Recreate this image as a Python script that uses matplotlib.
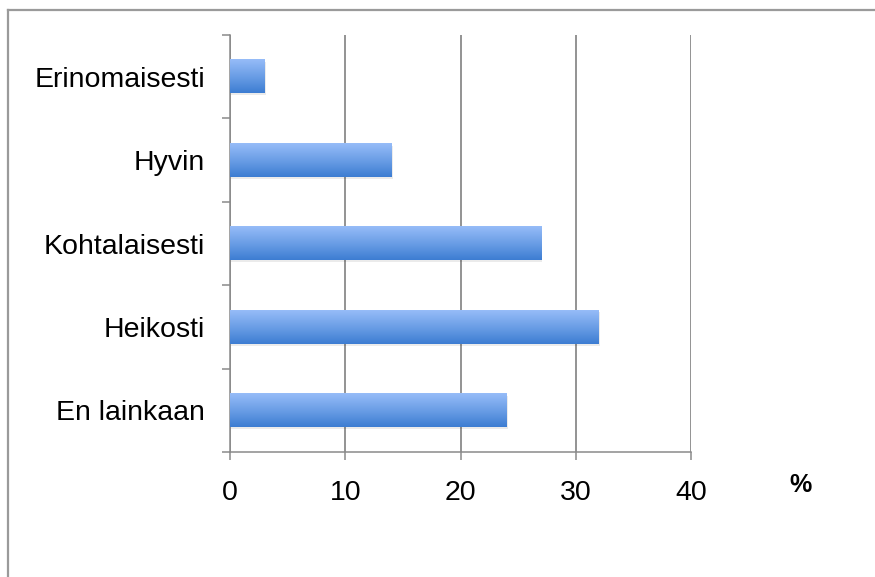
import matplotlib
matplotlib.use("Agg")
import matplotlib.pyplot as plt
import numpy as np
from matplotlib.colors import LinearSegmentedColormap
from matplotlib.lines import Line2D
from matplotlib.patches import Rectangle

# data
categories = ['En lainkaan', 'Heikosti', 'Kohtalaisesti', 'Hyvin', 'Erinomaisesti']
values = [24, 32, 27, 14, 3]
xticks = [0, 10, 20, 30, 40]

plt.rcParams['font.family'] = ['Liberation Sans', 'DejaVu Sans']

fig = plt.figure(figsize=(8.75, 5.77), dpi=100)
ax = fig.add_axes([0.2629, 0.2166, 0.5268, 0.7227])

grad = LinearSegmentedColormap.from_list('bar', ['#3d7dd2', '#6b9ee6', '#96bcf8'])
bar_h = 0.4
y = np.arange(len(categories))

# soft shadow, then the bars with a vertical gradient
for yi, v in zip(y, values):
    ax.add_patch(Rectangle((0.1, yi - bar_h / 2 - 0.025), v, bar_h, color='#000000',
                           alpha=0.08, lw=0, zorder=2))
bars = ax.barh(y, values, height=bar_h, color='none', zorder=3)
g = np.linspace(0, 1, 100).reshape(-1, 1)
for b in bars:
    x0, y0 = b.get_x(), b.get_y()
    w, h = b.get_width(), b.get_height()
    ax.imshow(g, cmap=grad, aspect='auto', origin='lower',
              extent=(x0, x0 + w, y0, y0 + h), zorder=3)

ax.set_xlim(0, 40)
ax.set_ylim(-0.5, len(categories) - 0.5)

ax.set_xticks(xticks)
ax.set_xticklabels([str(t) for t in xticks], fontsize=20.5)
ax.set_yticks(y)
ax.set_yticklabels(categories, fontsize=20.5)
ax.tick_params(axis='y', length=0, pad=18)
ax.set_yticks(np.arange(-0.5, len(categories), 1), minor=True)
ax.tick_params(axis='y', which='minor', length=6, width=1.1, color='#8a8a8a')
ax.tick_params(axis='x', length=6, width=1.1, color='#8a8a8a', pad=14)

ax.grid(axis='x', color='#8a8a8a', lw=1.3, zorder=1)
ax.set_axisbelow(True)
for s in ['top', 'right']:
    ax.spines[s].set_visible(False)
for s in ['left', 'bottom']:
    ax.spines[s].set_color('#8a8a8a')
    ax.spines[s].set_linewidth(1.1)

fig.text(801 / 875, 1 - 485 / 577, '%', fontsize=18, fontweight='bold',
         ha='center', va='center')

# page frame (top and left edges)
fig.add_artist(Line2D([8 / 875, 1], [1 - 10 / 577, 1 - 10 / 577],
                      transform=fig.transFigure, color='#9a9a9a', lw=1.6))
fig.add_artist(Line2D([8 / 875, 8 / 875], [0, 1 - 10 / 577],
                      transform=fig.transFigure, color='#9a9a9a', lw=1.6))

fig.savefig('out.png', dpi=100)
